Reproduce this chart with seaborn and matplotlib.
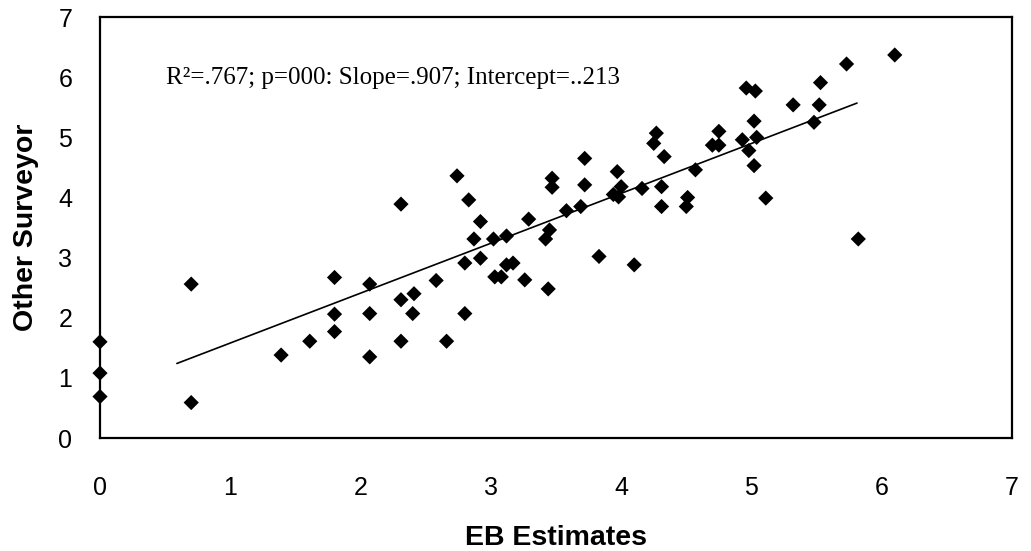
import matplotlib
matplotlib.use("Agg")
import matplotlib.pyplot as plt
import seaborn as sns
import pandas as pd

# EB estimates vs other surveyor
eb_x = [0, 0, 0, 0.70, 0.70, 1.39, 1.61, 1.80, 1.80, 1.80,
        2.07, 2.07, 2.07, 2.31, 2.41, 2.40, 2.31, 2.66, 2.58, 2.80,
        2.31, 2.74, 2.83, 2.92, 2.87, 2.80, 2.92, 3.02, 3.12, 3.03,
        3.08, 3.12, 3.17, 3.26, 3.29, 3.42, 3.45, 3.44, 3.47, 3.47,
        3.58, 3.69, 3.72, 3.72, 3.83, 3.97, 3.94, 4.00, 3.98, 4.10,
        4.16, 4.31, 4.31, 4.27, 4.25, 4.33, 4.57, 4.51, 4.50, 4.75,
        4.70, 4.75, 4.93, 4.98, 5.02, 5.04, 5.02, 4.96, 5.03, 5.11,
        5.32, 5.48, 5.52, 5.53, 5.73, 6.10, 5.82]
other_y = [1.60, 1.08, 0.69, 2.56, 0.59, 1.38, 1.61, 1.77, 2.06, 2.67,
           2.56, 2.07, 1.35, 2.30, 2.40, 2.07, 1.61, 1.61, 2.62, 2.07,
           3.89, 4.36, 3.96, 3.60, 3.31, 2.91, 2.99, 3.31, 3.36, 2.68,
           2.68, 2.88, 2.91, 2.63, 3.64, 3.31, 3.46, 2.48, 4.32, 4.17,
           3.78, 3.85, 4.65, 4.21, 3.02, 4.43, 4.05, 4.18, 4.01, 2.88,
           4.15, 4.18, 3.85, 5.07, 4.90, 4.68, 4.46, 4.00, 3.85, 5.10,
           4.87, 4.87, 4.96, 4.78, 5.27, 5.00, 4.53, 5.82, 5.77, 3.99,
           5.54, 5.25, 5.54, 5.91, 6.22, 6.37, 3.31]

# fitted line endpoints as drawn
fit_x = [0.59, 5.81]
fit_y = [1.24, 5.57]

ticks = [0, 1, 2, 3, 4, 5, 6, 7]
stats_text = "R\u00b2=.767; p=000: Slope=.907; Intercept=..213"

df = pd.DataFrame({"eb": eb_x, "other": other_y})
fit = pd.DataFrame({"eb": fit_x, "other": fit_y})

sns.set_style("white")
plt.rcParams["font.family"] = ["Liberation Sans", "DejaVu Sans"]
plt.rcParams["text.color"] = "black"
plt.rcParams["axes.labelcolor"] = "black"
plt.rcParams["xtick.color"] = "black"
plt.rcParams["ytick.color"] = "black"

fig = plt.figure(figsize=(10.31, 5.51), dpi=100)
ax = fig.add_axes([0.097, 0.205, 0.8846, 0.764])

sns.lineplot(x="eb", y="other", data=fit, color="black", linewidth=1.2, ax=ax)
sns.scatterplot(x="eb", y="other", data=df, marker="D", s=60, color="black",
                edgecolor="none", ax=ax, zorder=3, clip_on=False)

ax.set_xlim(0, 7)
ax.set_ylim(0, 7)
ax.set_xticks(ticks)
ax.set_yticks(ticks)
ax.tick_params(axis="x", length=0, pad=27, labelsize=18)
ax.tick_params(axis="y", length=0, pad=20, labelsize=18)
for s in ax.spines.values():
    s.set_color("black")
    s.set_linewidth(1.6)

ax.set_xlabel("EB Estimates", fontsize=20.5, fontweight="bold")
ax.set_ylabel("Other Surveyor", fontsize=20.5, fontweight="bold")
ax.xaxis.label.set_va("baseline")
ax.yaxis.label.set_va("baseline")
ax.xaxis.set_label_coords(0.5, -0.254)
ax.yaxis.set_label_coords(-0.0735, 0.5)

ax.text(0.51, 5.99, stats_text, fontsize=18, va="center", ha="left",
        color="black", family=["Liberation Serif", "DejaVu Serif"])

fig.savefig("out.png", dpi=100)
